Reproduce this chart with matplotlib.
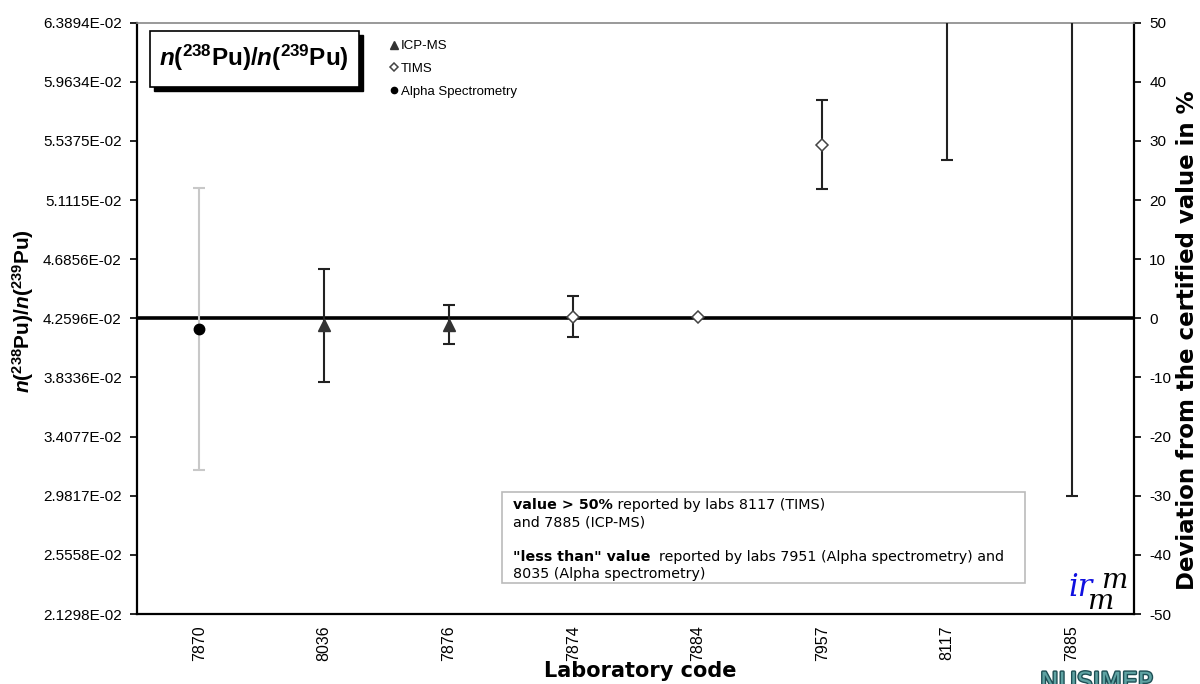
#!/usr/bin/env python3
"""
Interlaboratory comparison: n(238Pu)/n(239Pu) results per laboratory.
"""

import matplotlib
matplotlib.use("Agg")
import matplotlib.pyplot as plt
import matplotlib.patheffects as pe
from matplotlib.lines import Line2D
from matplotlib.patches import Rectangle
from matplotlib.text import Annotation

# certified ratio and lab results (deviation from certified value, %)
CERT = 4.2596e-02
labs = ["7870", "8036", "7876", "7874", "7884", "7957", "8117", "7885"]
methods = ["Alpha Spectrometry", "ICP-MS", "ICP-MS", "TIMS", "TIMS", "TIMS", "TIMS", "ICP-MS"]
dev_pct = [-1.8, -1.2, -1.2, 0.3, 0.3, 29.3, 62.0, 75.0]
err_lo = [23.9, 9.6, 3.1, 3.4, 0.0, 7.5, 35.3, 105.0]
err_hi = [23.9, 9.6, 3.4, 3.4, 0.0, 7.6, 35.3, 105.0]
pct_ticks = [-50, -40, -30, -20, -10, 0, 10, 20, 30, 40, 50]

W, H = 1200, 684


def fx(px):
    return px / W


def fy(py):
    return 1 - py / H


STYLE = {
    "ICP-MS": dict(marker="^", ms=9, mfc="#333333", mec="#333333", mew=1.0),
    "TIMS": dict(marker="D", ms=6.5, mfc="white", mec="#444444", mew=1.1),
    "Alpha Spectrometry": dict(marker="o", ms=7.5, mfc="black", mec="black", mew=1.0),
}
RATIO_LABEL = r"$n$(${}^{238}$Pu)/$n$(${}^{239}$Pu)"

plt.rcParams["font.family"] = ["Liberation Sans", "DejaVu Sans"]
plt.rcParams["mathtext.fontset"] = "custom"
plt.rcParams["mathtext.rm"] = "Liberation Sans:bold"
plt.rcParams["mathtext.it"] = "Liberation Sans:bold:italic"
plt.rcParams["mathtext.bf"] = "Liberation Sans:bold"

fig = plt.figure(figsize=(12, 6.84), dpi=100)
ax = fig.add_axes([fx(137), fy(614), fx(1134) - fx(137), fy(22.7) - fy(614)])

x = list(range(len(labs)))
ax.set_xlim(-0.5, len(labs) - 0.5)
ax.set_ylim(-50, 50)

ax.axhline(0, color="black", lw=2.6, zorder=2)

for i, lab in enumerate(labs):
    ecol = "#c8c8c8" if methods[i] == "Alpha Spectrometry" else "#222222"
    if err_lo[i] > 0 or err_hi[i] > 0:
        ax.errorbar(x[i], dev_pct[i], yerr=[[err_lo[i]], [err_hi[i]]], fmt="none",
                    ecolor=ecol, elinewidth=1.5, capsize=4, capthick=1.5, zorder=3)
    ax.plot(x[i], dev_pct[i], linestyle="none", zorder=4, **STYLE[methods[i]])

# right axis (percent)
ax.yaxis.tick_right()
ax.set_yticks(pct_ticks)
ax.set_yticklabels([str(t) for t in pct_ticks], fontsize=11)
ax.tick_params(axis="y", direction="out", length=5, width=1.2, pad=6)
ax.set_xticks(x)
ax.set_xticklabels(labs, rotation=90, fontsize=11.5)
ax.tick_params(axis="x", length=0, pad=8)

ax.spines["left"].set_visible(False)
ax.spines["right"].set_linewidth(1.6)
ax.spines["bottom"].set_linewidth(1.6)
ax.spines["top"].set_color("#888888")
ax.spines["top"].set_linewidth(1.2)

# left axis (ratio)
sec = ax.secondary_yaxis("left", functions=(lambda p: CERT * (1 + p / 100.0),
                                            lambda r: (r / CERT - 1) * 100.0))
ratio_ticks = [CERT * (1 + t / 100.0) for t in pct_ticks]
sec.set_yticks(ratio_ticks)
sec.set_yticklabels([f"{v:.4E}" for v in ratio_ticks], fontsize=11)
sec.tick_params(axis="y", direction="out", length=5, width=1.2, pad=6)
sec.spines["left"].set_linewidth(1.6)

# axis titles
fig.text(fx(23), fy(311), RATIO_LABEL, rotation=90, ha="center", va="center",
         fontsize=15, fontweight="bold")
fig.text(fx(1187), fy(340), "Deviation from the certified value in %", rotation=90,
         ha="center", va="center", fontsize=16.5, fontweight="bold", family="DejaVu Sans")
fig.text(fx(640), fy(671), "Laboratory code", ha="center", va="center",
         fontsize=15, fontweight="bold", family="DejaVu Sans")

# title box with shadow
fig.patches.append(Rectangle((fx(154), fy(91)), fx(359) - fx(150), fy(31) - fy(87),
                             transform=fig.transFigure, facecolor="black", edgecolor="black",
                             zorder=5))
fig.patches.append(Rectangle((fx(150), fy(87)), fx(359) - fx(150), fy(31) - fy(87),
                             transform=fig.transFigure, facecolor="white", edgecolor="black",
                             lw=1.2, zorder=6))
fig.text(fx(254), fy(58), RATIO_LABEL, ha="center", va="center",
         fontsize=17.5, fontweight="bold", zorder=7)

# legend
handles = [Line2D([], [], linestyle="none", **dict(STYLE[m], ms=STYLE[m]["ms"] * 0.6))
           for m in ["ICP-MS", "TIMS", "Alpha Spectrometry"]]
fig.legend(handles, ["ICP-MS", "TIMS", "Alpha Spectrometry"], loc="upper left",
           bbox_to_anchor=(fx(390), fy(40)), bbox_transform=fig.transFigure,
           frameon=False, fontsize=9.5, handlelength=0.6, handletextpad=0.25,
           labelspacing=0.8, borderpad=0, borderaxespad=0)

# note box
fig.patches.append(Rectangle((fx(502), fy(583)), fx(1025) - fx(502), fy(492) - fy(583),
                             transform=fig.transFigure, facecolor="white",
                             edgecolor="#bbbbbb", lw=1.2, zorder=5))
note_font = dict(fontsize=10.3, family="DejaVu Sans", zorder=6)
t1 = fig.text(fx(513), fy(509), "value > 50%", fontweight="bold", va="baseline", **note_font)
fig.add_artist(Annotation(" reported by labs 8117 (TIMS)", xy=(1, 0), xycoords=t1,
                          va="bottom", ha="left", **note_font))
fig.text(fx(513), fy(526), "and 7885 (ICP-MS)", va="baseline", **note_font)
t3 = fig.text(fx(513), fy(561), "\"less than\" value", fontweight="bold", va="baseline",
              **note_font)
fig.add_artist(Annotation("  reported by labs 7951 (Alpha spectrometry) and", xy=(1, 0),
                          xycoords=t3, va="bottom", ha="left", **note_font))
fig.text(fx(513), fy(578), "8035 (Alpha spectrometry)", va="baseline", **note_font)

# irm logo
fig.text(fx(1068), fy(596), "ir", color="#1010e0", fontsize=22, style="italic",
         family="DejaVu Serif")
fig.text(fx(1101), fy(588), "m", color="black", fontsize=20, style="italic",
         family="DejaVu Serif")
fig.text(fx(1087), fy(609), "m", color="black", fontsize=20, style="italic",
         family="DejaVu Serif")

# NUSIMEP logo (cut at the bottom edge)
fig.text(fx(1040), fy(671), "NUSIMEP", ha="left", va="top", fontsize=18, color="#5fa3a3",
         family="DejaVu Sans",
         path_effects=[pe.withStroke(linewidth=2, foreground="#1e4f55")])

fig.savefig("out.png", dpi=100)
